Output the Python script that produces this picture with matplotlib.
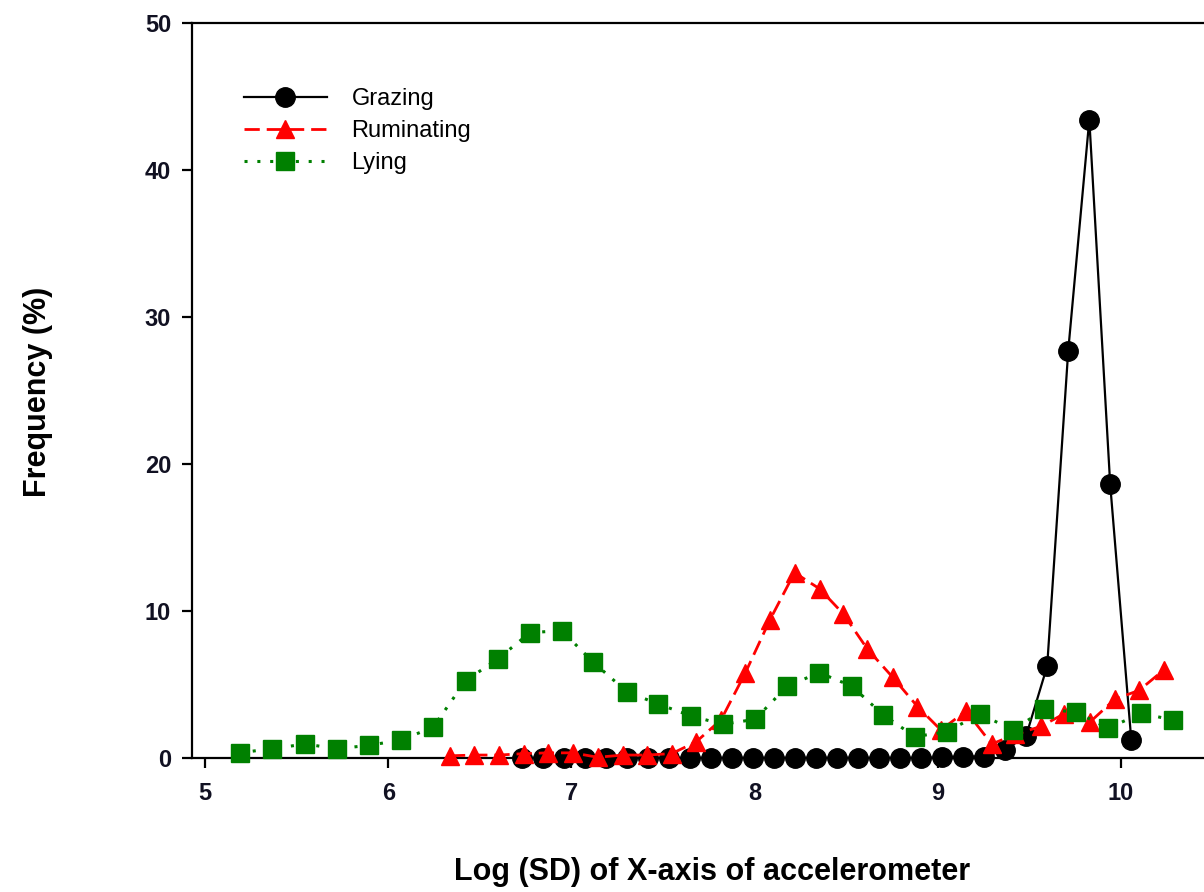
import matplotlib
matplotlib.use("Agg")
import matplotlib.pyplot as plt

# ---- data ----
grazing_x = [6.732, 6.847, 6.961, 7.076, 7.190, 7.305, 7.420, 7.534, 7.649, 7.763,
             7.878, 7.993, 8.107, 8.222, 8.336, 8.451, 8.566, 8.680, 8.795, 8.909,
             9.024, 9.139, 9.253, 9.368, 9.482, 9.597, 9.712, 9.827, 9.941, 10.056]
grazing_y = [0.0, 0.0, 0.0, 0.0, 0.0, 0.0, 0.0, 0.0, 0.0, 0.0,
             0.0, 0.0, 0.0, 0.0, 0.0, 0.0, 0.0, 0.0, 0.0, 0.0,
             0.05, 0.1, 0.1, 0.55, 1.5, 6.25, 27.7, 43.4, 18.6, 1.25]

rumin_x = [6.337, 6.470, 6.605, 6.743, 6.874, 7.007, 7.144, 7.280, 7.411, 7.548,
           7.681, 7.817, 7.950, 8.084, 8.218, 8.355, 8.484, 8.616, 8.753, 8.889,
           9.017, 9.154, 9.294, 9.424, 9.563, 9.689, 9.831, 9.967, 10.099, 10.235]
rumin_y = [0.15, 0.2, 0.2, 0.3, 0.35, 0.35, 0.05, 0.2, 0.2, 0.3,
           1.1, 2.6, 5.8, 9.4, 12.6, 11.5, 9.8, 7.4, 5.5, 3.5,
           1.9, 3.2, 0.95, 1.6, 2.15, 3.0, 2.45, 4.0, 4.6, 6.0]

lying_x = [5.191, 5.366, 5.546, 5.721, 5.895, 6.070, 6.245, 6.423, 6.598, 6.774,
           6.947, 7.120, 7.302, 7.474, 7.653, 7.826, 8.002, 8.179, 8.353, 8.530,
           8.703, 8.876, 9.049, 9.230, 9.412, 9.581, 9.753, 9.931, 10.109, 10.286]
lying_y = [0.36, 0.63, 0.95, 0.63, 0.86, 1.22, 2.09, 5.26, 6.73, 8.52,
           8.66, 6.5, 4.51, 3.67, 2.86, 2.29, 2.63, 4.89, 5.8, 4.89,
           2.92, 1.45, 1.79, 2.99, 1.9, 3.31, 3.13, 2.02, 3.04, 2.58]

series_labels = ["Grazing", "Ruminating", "Lying"]
x_ticks = [5, 6, 7, 8, 9, 10]
y_ticks = [0, 10, 20, 30, 40, 50]
x_label = "Log (SD) of X-axis of accelerometer"
y_label = "Frequency (%)"

plt.rcParams["font.family"] = ["Liberation Sans", "DejaVu Sans"]

W, H = 1204, 892
fig = plt.figure(figsize=(W / 100, H / 100), dpi=100)
left, right, top, bottom = 192, 1204, 22.5, 758
ax = fig.add_axes([left / W, 1 - bottom / H, (right - left) / W, (bottom - top) / H])

ax.plot(grazing_x, grazing_y, color="black", lw=1.6, marker="o", ms=14,
        mfc="black", mec="black", label=series_labels[0], zorder=3, clip_on=False)
ax.plot(rumin_x, rumin_y, color="#ff0000", lw=2.0, ls=(0, (5.5, 2.5)), marker="^", ms=13,
        mfc="#ff0000", mec="#ff0000", label=series_labels[1], zorder=4, clip_on=False)
ax.plot(lying_x, lying_y, color="#008000", lw=2.2, ls=(0, (1, 3.2)), marker="s", ms=12.5,
        mfc="#008000", mec="#008000", label=series_labels[2], zorder=5, clip_on=False)

ax.set_xlim(5 - 13 / 183.2, 5 + 999 / 183.2)
ax.set_ylim(0, 50)
ax.set_xticks(x_ticks)
ax.set_yticks(y_ticks)
ax.spines["right"].set_visible(False)
for s in ["left", "top", "bottom"]:
    ax.spines[s].set_linewidth(1.6)
    ax.spines[s].set_zorder(2)
ax.tick_params(direction="out", length=7, width=1.6, labelsize=17, pad=8)
ax.tick_params(axis="x", pad=10)
for lab in ax.get_xticklabels() + ax.get_yticklabels():
    lab.set_fontweight("bold")
    lab.set_color("#111122")

fig.text(712 / W, 1 - 872 / H, x_label, ha="center", va="center",
         fontsize=22, fontweight="bold")
fig.text(38 / W, 1 - 392 / H, y_label, ha="center", va="center", rotation=90,
         fontsize=22, fontweight="bold")

leg = ax.legend(loc="upper left", bbox_to_anchor=(244 / W, 1 - 88 / H),
                bbox_transform=fig.transFigure, frameon=False, handlelength=3.5,
                handletextpad=1.05, labelspacing=0.43, borderpad=0, borderaxespad=0,
                prop={"size": 17})

fig.savefig("out.png", dpi=100)
